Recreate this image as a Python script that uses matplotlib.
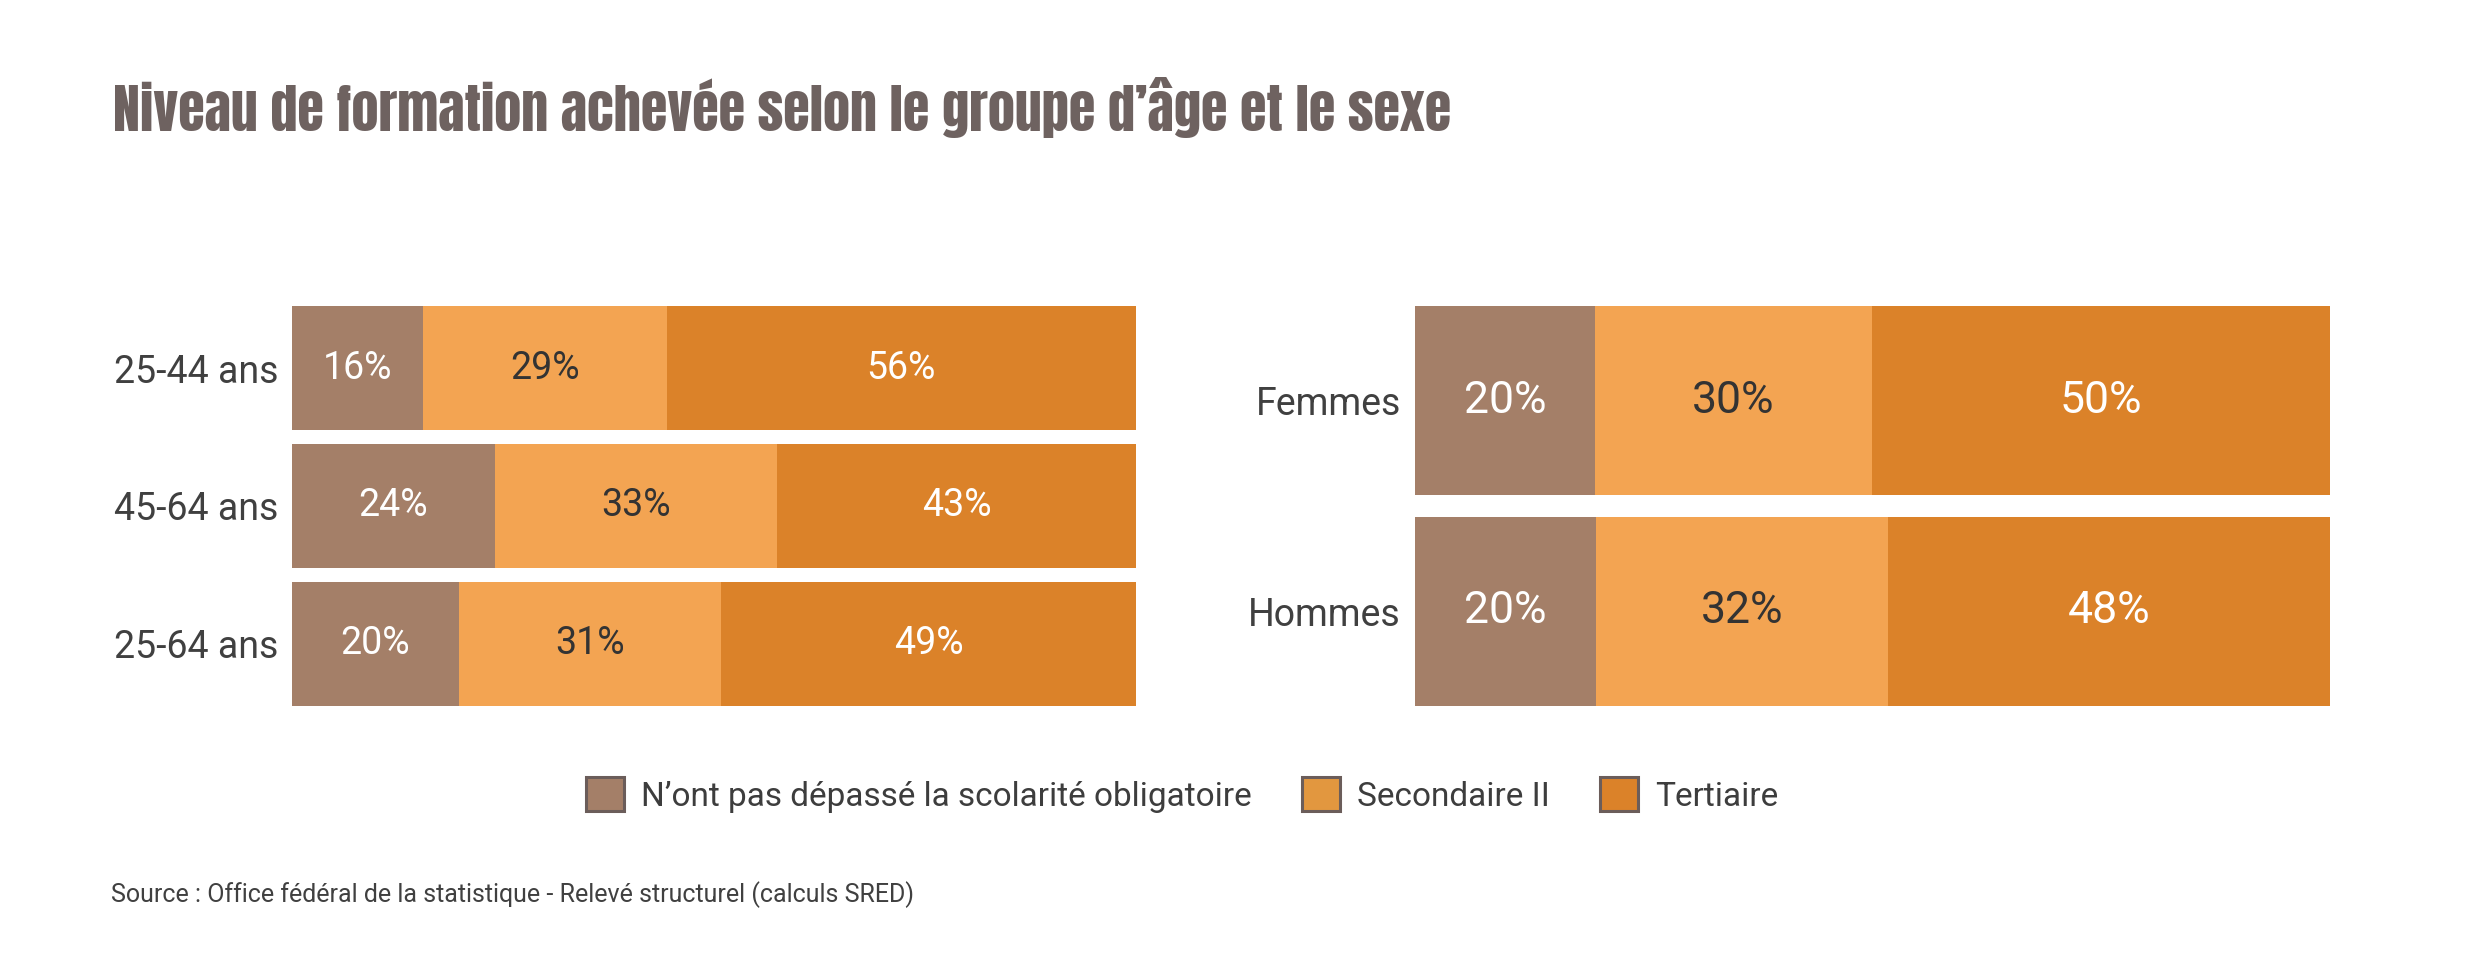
import numpy as np
import matplotlib.pyplot as plt
from matplotlib.patches import Patch
from matplotlib import font_manager

# data (bar widths, labels as printed)
age_groups = ["25-44 ans", "45-64 ans", "25-64 ans"]
age_oblig = [15.5, 24.05, 19.75]
age_sec2 = [28.9, 33.4, 31.1]
age_tert = [55.6, 42.55, 49.15]
age_labels = [[16, 24, 20], [29, 33, 31], [56, 43, 49]]

sexes = ["Femmes", "Hommes"]
sex_oblig = [19.65, 19.75]
sex_sec2 = [30.3, 31.95]
sex_tert = [50.05, 48.3]
sex_labels = [[20, 20], [30, 32], [50, 48]]

levels = ["N\u2019ont pas dépassé la scolarité obligatoire", "Secondaire II", "Tertiaire"]

COLORS = ["#a47f68", "#f3a452", "#db8229"]
LEG_COLORS = ["#a47f68", "#e2973f", "#db8229"]
TXT_COLORS = ["white", "#333333", "white"]

plt.rcParams["font.family"] = ["Roboto", "DejaVu Sans"]

# condensed display face for the title
names = {f.name for f in font_manager.fontManager.ttflist}
title_font = "DejaVu Sans"
for cand in ["Anton", "Oswald", "Bebas Neue", "Fjalla One", "Barlow Condensed"]:
    if cand in names:
        title_font = cand
        break

W, H = 2481, 973
fig = plt.figure(figsize=(W / 100, H / 100), dpi=100)


def draw_panel(rect, cats, series, labels, label_size):
    ax = fig.add_axes(rect)
    y = np.arange(len(cats))
    left = np.zeros(len(cats))
    for i, vals in enumerate(series):
        vals = np.array(vals, dtype=float)
        ax.barh(y, vals, left=left, height=0.9, color=COLORS[i], edgecolor="none")
        for j in range(len(cats)):
            ax.text(left[j] + vals[j] / 2, y[j], f"{labels[i][j]}%",
                    ha="center", va="center", fontsize=label_size,
                    color=TXT_COLORS[i])
        left += vals
    ax.set_xlim(0, 100)
    ax.set_ylim(len(cats) - 1 + 0.45, -0.45)
    ax.set_yticks(y)
    ax.set_yticklabels(cats, fontsize=27, color="#404040")
    ax.tick_params(axis="y", length=0, pad=10)
    ax.set_xticks([])
    for s in ax.spines.values():
        s.set_visible(False)
    return ax


bot = 1 - 706 / H
hgt = 400 / H
draw_panel([292 / W, bot, (1136 - 292) / W, hgt], age_groups,
           [age_oblig, age_sec2, age_tert], age_labels, 27)
draw_panel([1415 / W, bot, (2330 - 1415) / W, hgt], sexes,
           [sex_oblig, sex_sec2, sex_tert], sex_labels, 32)

# title
fig.text(113 / W, 1 - 131 / H, "Niveau de formation achevée selon le groupe d\u2019âge et le sexe",
         fontsize=39, color="#6e6260", va="baseline",
         family=[title_font, "DejaVu Sans"])

# legend
handles = [Patch(facecolor=LEG_COLORS[i], edgecolor="#6b5d5a", linewidth=2.2,
                 label=levels[i]) for i in range(3)]
fig.legend(handles=handles, loc="center", bbox_to_anchor=(1182 / W, 1 - 795 / H),
           ncol=3, frameon=False, fontsize=24, handlelength=1.15,
           handleheight=1.18, handletextpad=0.5, columnspacing=1.5,
           labelcolor="#3d3d3d")

# source
fig.text(111 / W, 1 - 895 / H,
         "Source : Office fédéral de la statistique - Relevé structurel (calculs SRED)",
         fontsize=18, color="#404040", va="center")

fig.savefig("out.png", dpi=100, facecolor="white")
